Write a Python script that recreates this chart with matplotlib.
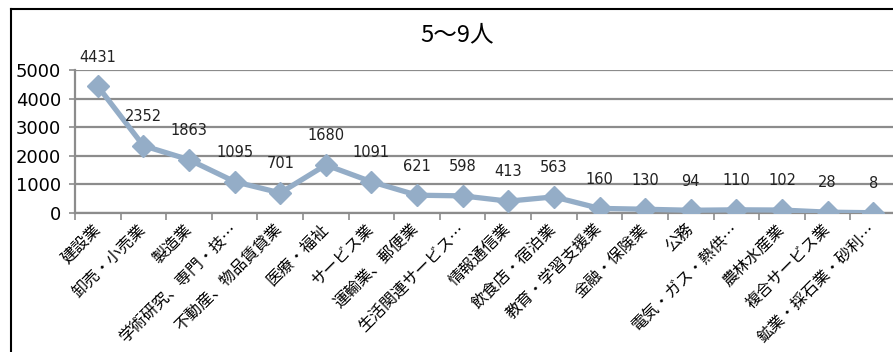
import matplotlib
matplotlib.use('agg')
import matplotlib.pyplot as plt
from matplotlib.lines import Line2D
import numpy as np

plt.rcParams['font.family'] = ['Noto Sans CJK JP', 'DejaVu Sans']

title = '5～9人'
industries = ['建設業', '卸売・小売業', '製造業', '学術研究、専門・技…', '不動産、物品賃貸業',
              '医療・福祉', 'サービス業', '運輸業、郵便業', '生活関連サービス…', '情報通信業',
              '飲食店・宿泊業', '教育・学習支援業', '金融・保険業', '公務', '電気・ガス・熱供…',
              '農林水産業', '複合サービス業', '鉱業・採石業・砂利…']
counts = [4431, 2352, 1863, 1095, 701, 1680, 1091, 621, 598, 413, 563,
          160, 130, 94, 110, 102, 28, 8]
yticks = [0, 1000, 2000, 3000, 4000, 5000]

line_color = '#94adc7'
grid_color = '#8c8c8c'

fig = plt.figure(figsize=(8.93, 3.52), dpi=100)
ax = fig.add_axes([75 / 893, 0.395, 821 / 893, 0.406])

x = np.arange(len(counts))
ax.plot(x, counts, color=line_color, lw=3.8, marker='D', markersize=11,
        markerfacecolor=line_color, markeredgecolor=line_color, zorder=3)
for xi, v in zip(x, counts):
    ax.annotate(str(v), (xi, v), xytext=(0, 21), textcoords='offset points',
                ha='center', va='center', fontsize=10.5, color='#222222',
                family=['DejaVu Sans'])

ax.set_xlim(-0.5, len(counts) - 0.5)
ax.set_ylim(0, 5000)
ax.set_yticks(yticks)
ax.set_yticklabels([str(t) for t in yticks], fontsize=13, family=['DejaVu Sans'])
ax.yaxis.grid(True, color=grid_color, lw=1.6)
ax.set_axisbelow(True)

# category ticks sit between points, labels sit under the points
ax.set_xticks(x)
ax.set_xticklabels(industries, rotation=45, ha='right', va='center',
                   rotation_mode='anchor', fontsize=11.5)
ax.tick_params(axis='x', length=0, pad=10)
ax.set_xticks(np.arange(len(counts) + 1) - 0.5, minor=True)
ax.tick_params(axis='x', which='minor', length=5, color=grid_color, width=1.2)
ax.tick_params(axis='y', length=4, color=grid_color, width=1.2, pad=6)

for side in ['top', 'right']:
    ax.spines[side].set_visible(False)
for side in ['left', 'bottom']:
    ax.spines[side].set_color(grid_color)
    ax.spines[side].set_linewidth(1.6)

fig.text(457 / 893, 1 - 35 / 352, title, ha='center', va='center', fontsize=17)

# chart frame
fig.add_artist(Line2D([11 / 893, 11 / 893], [0, 1 - 9 / 352], transform=fig.transFigure,
                      color='black', lw=1.5))
fig.add_artist(Line2D([11 / 893, 1], [1 - 9 / 352, 1 - 9 / 352], transform=fig.transFigure,
                      color='black', lw=1.5))

fig.savefig('out.png', dpi=100)
